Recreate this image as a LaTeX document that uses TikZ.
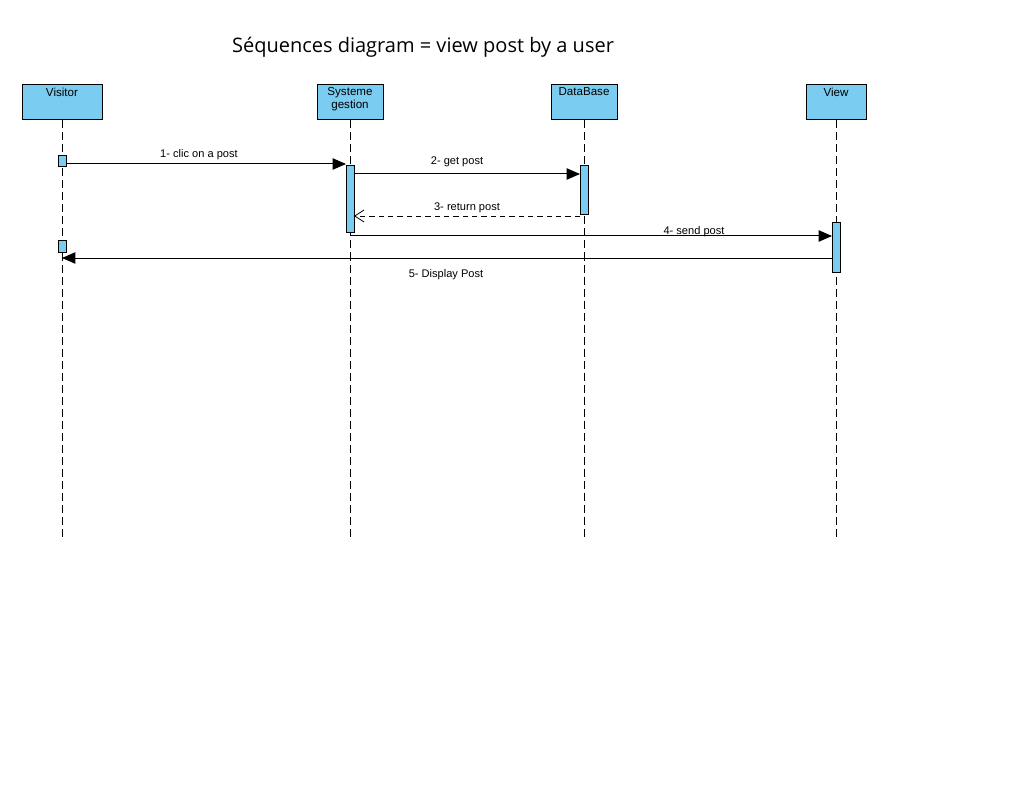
\documentclass[tikz,border=0pt]{standalone}
\usepackage{fontspec}
\setmainfont{Liberation Sans}
\newfontfamily\titlefont{Open Sans}
\usetikzlibrary{arrows.meta}
\definecolor{actblue}{RGB}{122,204,240}
\tikzset{every picture/.style={line width=0.75pt}}
\tikzset{
  lifebox/.style={draw, fill=actblue, minimum width=#1, minimum height=26.25pt, inner sep=0pt, text depth=0pt},
  actbar/.style={draw, fill=actblue, minimum width=6pt, inner sep=0pt},
  lifeline/.style={dashed, dash pattern=on 6pt off 3pt, line width=0.6pt},
  msg/.style={-{Triangle[length=10pt,width=8.5pt]}, line width=0.75pt},
  retmsg/.style={dashed, dash pattern=on 4pt off 3pt, -{Straight Barb[length=7pt,width=9pt,line width=0.6pt]}, line width=0.6pt},
  msglabel/.style={font=\fontsize{8.3pt}{9pt}\selectfont, inner sep=0pt}
}
\begin{document}
\begin{tikzpicture}[x=0.75pt,y=0.75pt,yscale=-1,xscale=1]
\useasboundingbox (0,0) rectangle (1032,795);

%Title
\node[font=\titlefont\fontsize{15pt}{17pt}\selectfont] (title) at (423,47) {Séquences diagram = view post by a user};

%Lifeline boxes
\node[lifebox=60pt] (visitor) at (62,102.5) {};
\node[font=\fontsize{8.7pt}{10pt}\selectfont, inner sep=0pt, anchor=north] at (visitor.north) [yshift=-2pt] {Visitor};
\node[lifebox=49.5pt] (systeme) at (350,102.5) {};
\node[font=\fontsize{8.7pt}{9.7pt}\selectfont, inner sep=0pt, anchor=north, align=center] at (systeme.north) [yshift=-1.5pt] {Systeme\\gestion};
\node[lifebox=49.5pt] (database) at (584,102.5) {};
\node[font=\fontsize{8.7pt}{10pt}\selectfont, inner sep=0pt, anchor=north] at (database.north) [yshift=-2pt] {DataBase};
\node[lifebox=45pt] (view) at (836,102.5) {};
\node[font=\fontsize{8.7pt}{10pt}\selectfont, inner sep=0pt, anchor=north] at (view.north) [yshift=-2pt] {View};

%Lifeline ends
\coordinate (visitorEnd) at (62,540);
\coordinate (systemeEnd) at (350,540);
\coordinate (databaseEnd) at (584,540);
\coordinate (viewEnd) at (836,540);
\draw[lifeline] (visitor.south) -- (visitorEnd);
\draw[lifeline] (systeme.south) -- (systemeEnd);
\draw[lifeline] (database.south) -- (databaseEnd);
\draw[lifeline] (view.south) -- (viewEnd);

%Activation bars
\node[actbar, minimum height=8.25pt] (visitorA) at (62,161.5) {};
\node[actbar, minimum height=8.25pt] (visitorB) at (62,246.5) {};
\node[actbar, minimum height=50.25pt] (systemeA) at (350,199.5) {};
\node[actbar, minimum height=36.75pt] (databaseA) at (584,190.5) {};
\node[actbar, minimum height=36.75pt] (viewA) at (836,247.5) {};

%Message end points
\coordinate (m1a) at (66,164);   \coordinate (m1b) at (346,164);
\coordinate (m2a) at (354,174);  \coordinate (m2b) at (580,174);
\coordinate (m3a) at (580,216);  \coordinate (m3b) at (354,216);
\coordinate (m4a) at (350,236);  \coordinate (m4b) at (832,236);
\coordinate (m5a) at (832,258);  \coordinate (m5b) at (62,258);

%Messages
\draw[msg] (m1a) -- (m1b);
\draw[msg] (m2a) -- (m2b);
\draw[retmsg] (m3a) -- (m3b);
\draw[msg] (m4a) -- (m4b);
\draw[msg] (m5a) -- (m5b);

%Labels
\node[msglabel] (l1) at (199,154.5) {1-\ clic on a post};
\node[msglabel] (l2) at (457,162) {2- get post};
\node[msglabel] (l3) at (467,207.5) {3- return post};
\node[msglabel] (l4) at (694,231.5) {4- send post};
\node[msglabel] (l5) at (446,274.5) {5- Display Post};
\end{tikzpicture}
\end{document}
